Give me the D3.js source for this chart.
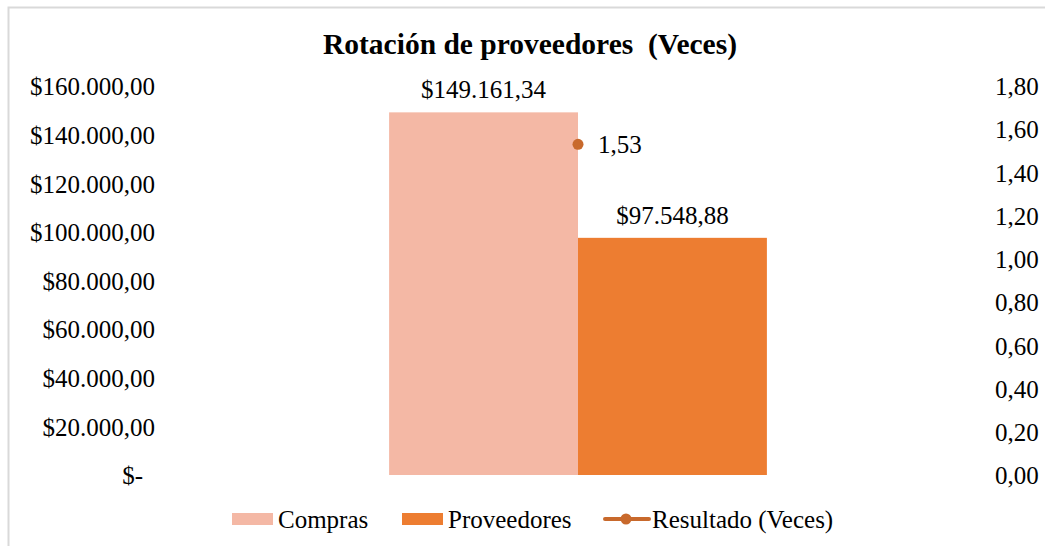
<!DOCTYPE html>
<html>
<head>
<meta charset="utf-8">
<script src="https://cdn.jsdelivr.net/npm/d3@7"></script>
<style>
  html, body { margin: 0; padding: 0; background: #fff; }
  svg { display: block; }
  text { font-family: "Liberation Serif", "Times New Roman", serif; fill: #000; }
</style>
</head>
<body>
<svg id="chart" width="1045" height="546"></svg>
<script>
const title = "Rotación de proveedores  (Veces)";
const categories = ["Rotación"];
const seriesNames = ["Compras", "Proveedores"];
const compras = [149161.34];
const proveedores = [97548.88];
const resultado = [1.53];
const leftTicks = [0, 20000, 40000, 60000, 80000, 100000, 120000, 140000, 160000];
const rightTicks = [0, 0.2, 0.4, 0.6, 0.8, 1.0, 1.2, 1.4, 1.6, 1.8];
const lineName = "Resultado (Veces)";
const colors = { Compras: "#F4B8A5", Proveedores: "#ED7D31", line: "#C8692C" };

const svg = d3.select("#chart");
const plot = { left: 170, right: 986, top: 86, bottom: 475 };

// border (chart area outline)
svg.append("rect").attr("x", 8.5).attr("y", 7.5).attr("width", 1200).attr("height", 800)
  .attr("fill", "none").attr("stroke", "#D9D9D9").attr("stroke-width", 2);

// title
svg.append("text").attr("x", 530).attr("y", 54).attr("text-anchor", "middle")
  .attr("font-size", 29.5).attr("font-weight", "bold").style("white-space", "pre").text(title);

const x0 = d3.scaleBand().domain(categories).range([plot.left, plot.right]).paddingInner(0).paddingOuter(0.58);
const x1 = d3.scaleBand().domain(seriesNames).range([0, x0.bandwidth()]).padding(0);
const yL = d3.scaleLinear().domain([0, 160000]).range([plot.bottom, plot.top]);
const yR = d3.scaleLinear().domain([0, 1.8]).range([plot.bottom, plot.top]);

const fmtMoney = v => {
  if (v === 0) return "$-";
  const s = d3.format(",.2f")(v);
  return "$" + s.replace(/,/g, "X").replace(/\./g, ",").replace(/X/g, ".");
};
const fmtDec = v => d3.format(".2f")(v).replace(".", ",");

// left axis
const axL = d3.axisLeft(yL).tickValues(leftTicks).tickFormat(fmtMoney).tickSize(0).tickPadding(0);
const gL = svg.append("g").attr("transform", `translate(155,0)`).call(axL);
gL.select(".domain").remove();
gL.selectAll("text").attr("font-size", 25).attr("font-family", "Liberation Serif").attr("fill", "#000").attr("dy", "0.35em")
  .attr("x", d => d === 0 ? -12 : 0);

// right axis
const axR = d3.axisRight(yR).tickValues(rightTicks).tickFormat(fmtDec).tickSize(0).tickPadding(0);
const gR = svg.append("g").attr("transform", `translate(995,0)`).call(axR);
gR.select(".domain").remove();
gR.selectAll("text").attr("font-size", 25).attr("font-family", "Liberation Serif").attr("fill", "#000").attr("dy", "0.35em");

// bars
const barData = [];
categories.forEach((c, i) => {
  barData.push({ cat: c, series: "Compras", value: compras[i] });
  barData.push({ cat: c, series: "Proveedores", value: proveedores[i] });
});
svg.append("g").selectAll("rect").data(barData).join("rect")
  .attr("x", d => x0(d.cat) + x1(d.series))
  .attr("y", d => yL(d.value))
  .attr("width", x1.bandwidth())
  .attr("height", d => yL(0) - yL(d.value))
  .attr("fill", d => colors[d.series]);

// bar labels
svg.append("g").selectAll("text").data(barData).join("text")
  .attr("x", d => x0(d.cat) + x1(d.series) + x1.bandwidth() / 2)
  .attr("y", d => yL(d.value) - 14)
  .attr("text-anchor", "middle").attr("font-size", 25)
  .text(d => fmtMoney(d.value));

// line series (single point)
const lineData = categories.map((c, i) => ({ cat: c, value: resultado[i] }));
const line = d3.line().x(d => x0(d.cat) + x0.bandwidth() / 2).y(d => yR(d.value));
svg.append("path").datum(lineData).attr("d", line).attr("fill", "none")
  .attr("stroke", colors.line).attr("stroke-width", 3);
svg.append("g").selectAll("circle").data(lineData).join("circle")
  .attr("cx", d => x0(d.cat) + x0.bandwidth() / 2)
  .attr("cy", d => yR(d.value))
  .attr("r", 5.5).attr("fill", colors.line);
svg.append("g").selectAll("text").data(lineData).join("text")
  .attr("x", d => x0(d.cat) + x0.bandwidth() / 2 + 20)
  .attr("y", d => yR(d.value)).attr("dy", "0.35em")
  .attr("font-size", 25).text(d => fmtDec(d.value));

// legend
const lg = svg.append("g");
const legendItems = [
  { name: "Compras", type: "rect", x: 232, color: colors.Compras },
  { name: "Proveedores", type: "rect", x: 402, color: colors.Proveedores },
  { name: lineName, type: "line", x: 605, color: colors.line }
];
const ly = 519;
legendItems.forEach(it => {
  if (it.type === "rect") {
    lg.append("rect").attr("x", it.x).attr("y", ly - 6).attr("width", 41).attr("height", 12).attr("fill", it.color);
  } else {
    lg.append("line").attr("x1", it.x).attr("x2", it.x + 44).attr("y1", ly).attr("y2", ly)
      .attr("stroke", it.color).attr("stroke-width", 4).attr("stroke-linecap", "round");
    lg.append("circle").attr("cx", it.x + 21).attr("cy", ly).attr("r", 5.5).attr("fill", it.color);
  }
  lg.append("text").attr("x", it.x + (it.type === "rect" ? 46 : 47)).attr("y", ly).attr("dy", "0.35em")
    .attr("font-size", 25).text(it.name);
});
</script>
</body>
</html>
